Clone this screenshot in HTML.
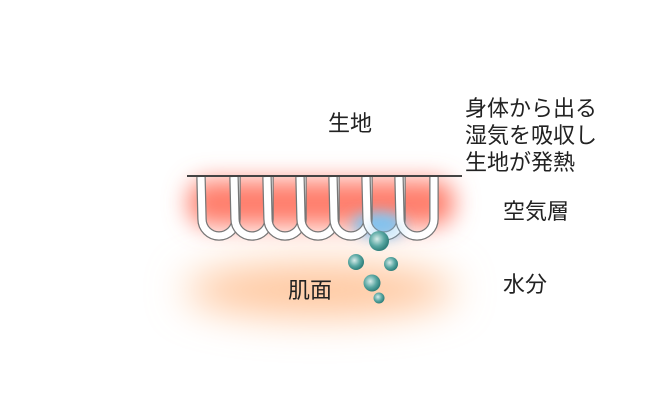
<!DOCTYPE html>
<html><head><meta charset="utf-8"><style>
html,body{margin:0;padding:0;background:#fff;}
svg{display:block;}
text{font-family:"Liberation Sans","Noto Sans CJK JP",sans-serif;fill:#222;font-size:22px;}
</style></head><body>
<svg width="650" height="403" viewBox="0 0 650 403" xmlns="http://www.w3.org/2000/svg">
<defs>
<filter id="b1" x="-50%" y="-100%" width="200%" height="300%"><feGaussianBlur stdDeviation="12"/></filter>
<filter id="b2" x="-100%" y="-100%" width="300%" height="300%"><feGaussianBlur stdDeviation="7"/></filter>
<filter id="b3" x="-100%" y="-200%" width="300%" height="500%"><feGaussianBlur stdDeviation="20"/></filter>
<radialGradient id="bub" cx="0.4" cy="0.4" r="0.6">
<stop offset="0" stop-color="#d8ecea"/><stop offset="0.6" stop-color="#5aa8a3"/><stop offset="1" stop-color="#2f7f7b"/>
</radialGradient>
<path id="u" d="M0 177 L1 219 a17 17 0 0 0 34 0 L35 177"/>
</defs>
<ellipse cx="320" cy="290" rx="135" ry="26" fill="#ffc49a" filter="url(#b3)"/>
<rect x="188" y="180" width="266" height="46" rx="20" fill="#ff7d6b" filter="url(#b1)"/>
<ellipse cx="378" cy="224" rx="26" ry="12" fill="#7fc3f0" filter="url(#b2)"/>
<g fill="none">
<g transform="translate(201,0)"><use href="#u" stroke="#777" stroke-width="9.5"/><use href="#u" stroke="#fff" stroke-width="7"/></g>
<g transform="translate(234,0)"><use href="#u" stroke="#777" stroke-width="9.5"/><use href="#u" stroke="#fff" stroke-width="7"/></g>
<g transform="translate(267,0)"><use href="#u" stroke="#777" stroke-width="9.5"/><use href="#u" stroke="#fff" stroke-width="7"/></g>
<g transform="translate(300,0)"><use href="#u" stroke="#777" stroke-width="9.5"/><use href="#u" stroke="#fff" stroke-width="7"/></g>
<g transform="translate(333,0)"><use href="#u" stroke="#777" stroke-width="9.5"/><use href="#u" stroke="#fff" stroke-width="7"/></g>
<g transform="translate(366,0)"><use href="#u" stroke="#777" stroke-width="9.5"/><use href="#u" stroke="#fff" stroke-width="7"/></g>
<g transform="translate(399,0)"><use href="#u" stroke="#777" stroke-width="9.5"/><use href="#u" stroke="#fff" stroke-width="7"/></g>
</g>
<ellipse cx="385" cy="230" rx="18" ry="7" fill="#7fc3f0" opacity="0.6" filter="url(#b2)"/>
<rect x="187" y="175" width="275" height="2" fill="#444"/>
<circle cx="379" cy="241" r="10" fill="url(#bub)"/>
<circle cx="356" cy="262" r="8" fill="url(#bub)"/>
<circle cx="391" cy="264" r="7" fill="url(#bub)"/>
<circle cx="372" cy="283" r="8.5" fill="url(#bub)"/>
<circle cx="379" cy="298" r="5.5" fill="url(#bub)"/>
<text x="328" y="131">生地</text>
<text x="465" y="116">身体から出る</text>
<text x="465" y="143">湿気を吸収し</text>
<text x="465" y="170">生地が発熱</text>
<text x="503" y="219">空気層</text>
<text x="503" y="292">水分</text>
<text x="288" y="298">肌面</text>
</svg>
</body></html>
